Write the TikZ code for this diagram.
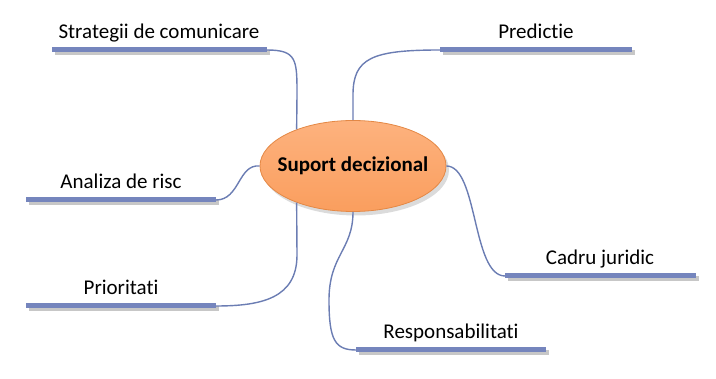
\documentclass[tikz,border=0pt]{standalone}
\usepackage{fontspec}
\setmainfont{Carlito}[RawFeature={-liga}]
\usepackage{xcolor}
\usetikzlibrary{shapes.geometric}
\usetikzlibrary{shadows}
\definecolor{barblue}{HTML}{7585BD}
\definecolor{linkblue}{HTML}{6B7DB3}
\definecolor{hubfill}{HTML}{FA9E5E}
\definecolor{hubtop}{HTML}{FDB27E}
\definecolor{hubedge}{HTML}{E48845}
\def\shadowoff{3}
\def\lblsize{\fontsize{21}{25}\selectfont}

\begin{document}
\begin{tikzpicture}[x=1pt, y=-1pt,
		bar/.style={line width=5pt, barblue},
		barshadow/.style={line width=5pt, black!22},
		link/.style={line width=1.4pt, linkblue},
		lbl/.style={anchor=base, inner sep=0pt, font=\lblsize},
		hub/.style={ellipse, draw=hubedge, line width=0.8pt, top color=hubtop, bottom color=hubfill,
			minimum width=186pt, minimum height=91pt, inner sep=0pt,
			drop shadow={shadow xshift=3pt, shadow yshift=-4pt, fill=black!28}}]
	\useasboundingbox (0,0) rectangle (716,379);

	% bar end points
	\coordinate (sl) at (52,50);  \coordinate (sr) at (267,50);
	\coordinate (pl) at (440,50); \coordinate (pr) at (632,50);
	\coordinate (al) at (26,200); \coordinate (ar) at (216,200);
	\coordinate (ol) at (26,306); \coordinate (or) at (216,306);
	\coordinate (cl) at (505,276); \coordinate (cr) at (696,276);
	\coordinate (rl) at (356,350); \coordinate (rr) at (546,350);

	% bars with shadow
	\foreach \a/\b in {sl/sr, pl/pr, al/ar, ol/or, cl/cr, rl/rr} {
		\draw[barshadow] ([shift={(\shadowoff,\shadowoff)}]\a) -- ([shift={(\shadowoff,\shadowoff)}]\b);
		\draw[bar] (\a) -- (\b);
	}

	% labels
	\node[lbl] (strat) at (159,39) {Strategii de comunicare};
	\node[lbl] (pred) at (536,39) {Predictie};
	\node[lbl] (risc) at (121,189) {Analiza de risc};
	\node[lbl] (prio) at (121,295) {Prioritati};
	\node[lbl] (cadru) at (600,265) {Cadru juridic};
	\node[lbl] (resp) at (451,339) {Responsabilitati};

	% central node
	\node[hub] (core) at (353,166) {};
	\node[font=\lblsize\bfseries, inner sep=0pt] (coretext) at (core.center) {Suport decizional};

	% connectors
	\draw[link] (sr) .. controls (297,50) and (297,60) .. (297,95) -- (core.147);
	\draw[link] (core.north) -- (353,95) .. controls (353,58) and (372,50) .. (pl);
	\draw[link] (ar) .. controls (240,200) and (238,164) .. (core.west);
	\draw[link] (core.213) -- (297,255) .. controls (297,298) and (262,306) .. (or);
	\draw[link] (core.east) .. controls (478,166) and (472,276) .. (cl);
	\draw[link] (core.south) .. controls (353,250) and (329,255) .. (329,300)
		.. controls (329,340) and (335,350) .. (rl);
\end{tikzpicture}
\end{document}
